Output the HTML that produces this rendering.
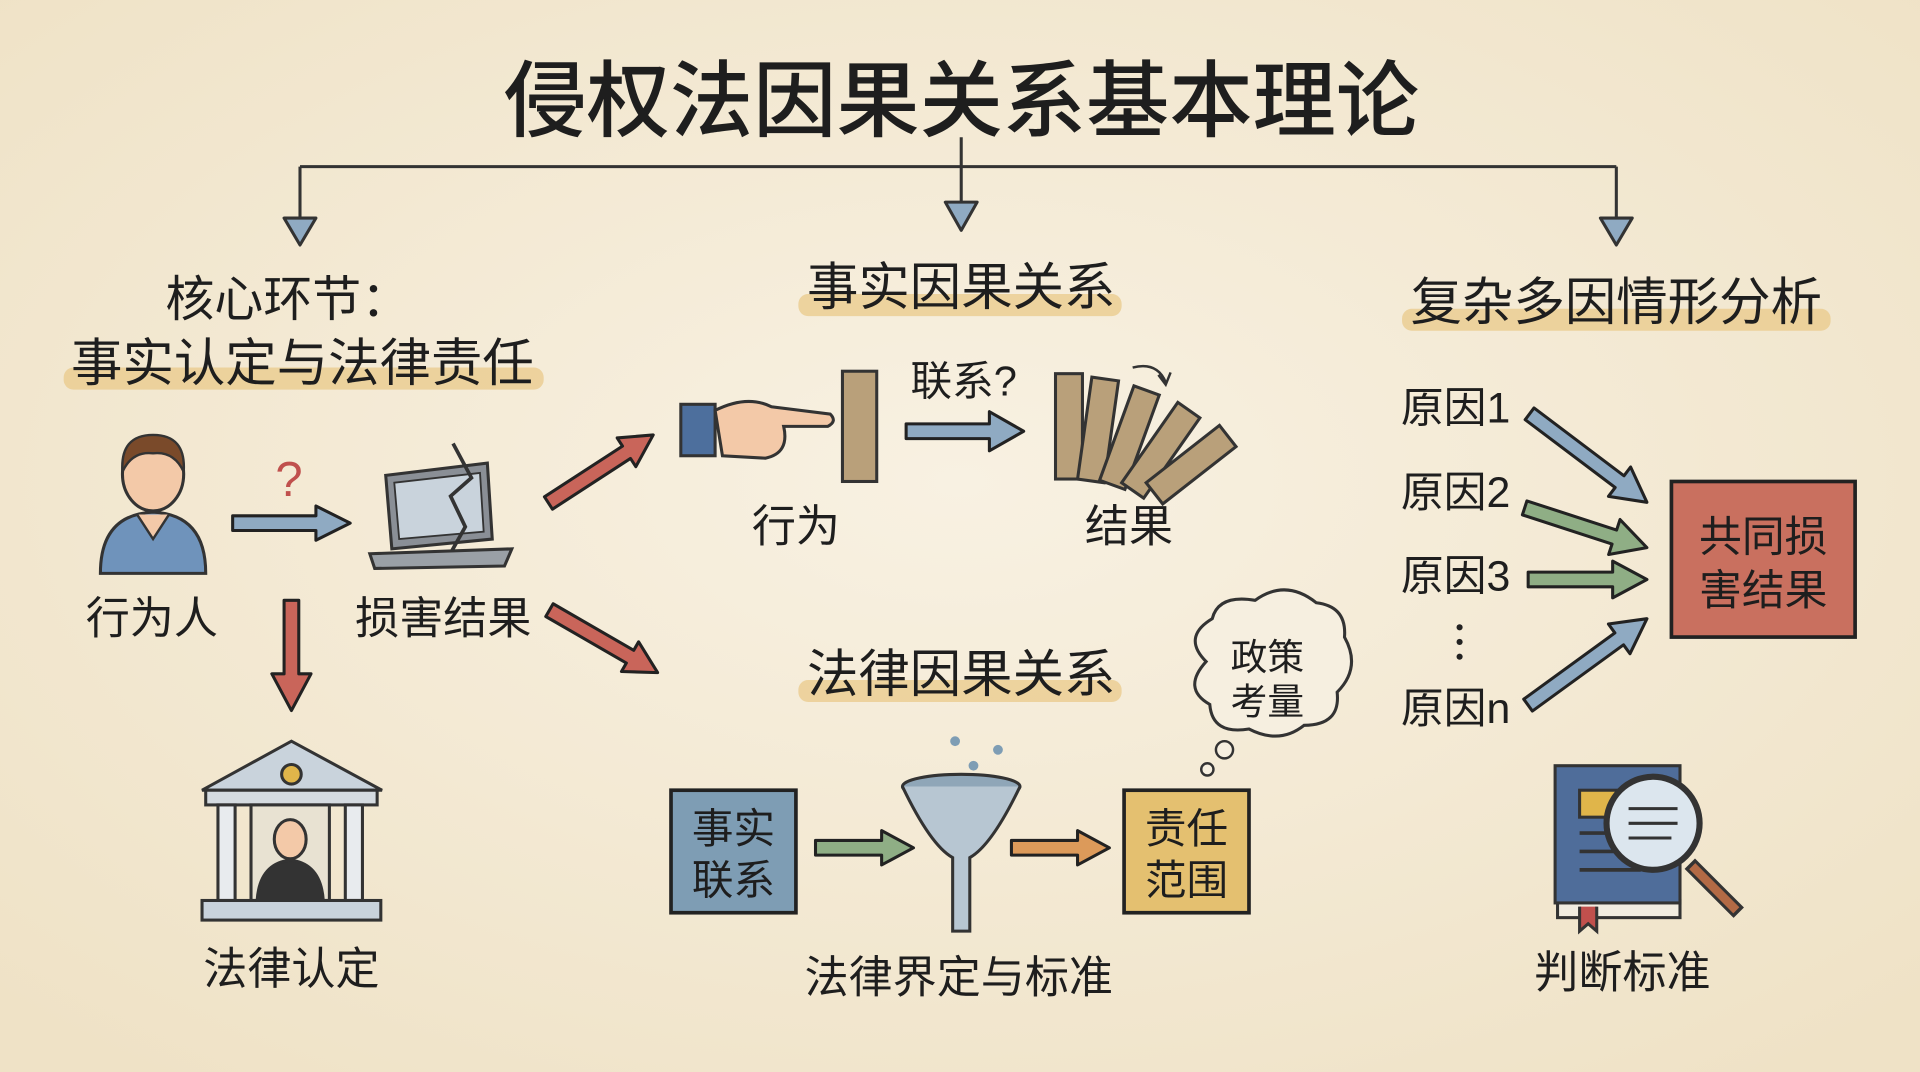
<!DOCTYPE html>
<html><head><meta charset="utf-8"><style>
html,body{margin:0;padding:0;width:1920px;height:1072px;overflow:hidden;background:#f3ead6}
svg{display:block}
text{font-family:"Liberation Sans","Noto Sans CJK SC",sans-serif;fill:#1e1e1e}
</style></head><body>
<svg width="1920" height="1072" viewBox="0 0 1568 875" preserveAspectRatio="none" xmlns="http://www.w3.org/2000/svg">
<defs>
<radialGradient id="bg" cx="50%" cy="45%" r="70%"><stop offset="0" stop-color="#f8f1e2"/><stop offset="1" stop-color="#efe2c6"/></radialGradient>
</defs>
<rect width="1568" height="875" fill="url(#bg)"/>

<text x="785" y="106" font-size="68" text-anchor="middle" font-weight="500">侵权法因果关系基本理论</text>
<g stroke="#333" stroke-width="2.5" fill="none">
<path d="M785 112 V136 M245 136 H1320 M245 136 V180 M785 136 V175 M1320 136 V180"/>
</g>
<g fill="#8faac2" stroke="#333" stroke-width="2.5" stroke-linejoin="round">
<polygon points="232,178 258,178 245,200"/><polygon points="772,165 798,165 785,188"/><polygon points="1307,178 1333,178 1320,200"/>
</g>

<g fill="#e9c98a" opacity="0.75">
<rect x="52" y="300" width="392" height="18" rx="8"/>
<rect x="652" y="240" width="264" height="18" rx="8"/>
<rect x="652" y="555" width="264" height="18" rx="8"/>
<rect x="1145" y="252" width="350" height="18" rx="8"/>
</g>
<text x="235" y="258" font-size="40" text-anchor="middle">核心环节：</text>
<text x="247" y="311" font-size="42" text-anchor="middle">事实认定与法律责任</text>
<text x="785" y="249" font-size="42" text-anchor="middle">事实因果关系</text>
<text x="785" y="565" font-size="42" text-anchor="middle">法律因果关系</text>
<text x="1320" y="261" font-size="42" text-anchor="middle">复杂多因情形分析</text>

<path d="M82 468 Q82 420 125 418 Q168 420 168 468 Z" fill="#6f93bb" stroke="#333" stroke-width="2.5"/>
<path d="M112 420 L125 440 L138 420" fill="#f3c9a8" stroke="#333" stroke-width="2"/>
<ellipse cx="125" cy="387" rx="25" ry="30" fill="#f3c9a8" stroke="#333" stroke-width="2.5"/>
<path d="M100 385 Q98 355 125 355 Q152 355 150 385 Q142 368 125 370 Q108 368 100 385Z" fill="#7a4a2a" stroke="#333" stroke-width="2"/>
<text x="124" y="517" font-size="36" text-anchor="middle">行为人</text>

<text x="236" y="405" font-size="40" text-anchor="middle" style="fill:#c0504d">?</text>
<g fill="#8faac2" transform="translate(258,427)"><polygon points="28,0 0,-14 0,-6 -68,-6 -68,6 0,6 0,14" stroke="#222" stroke-width="2.5" stroke-linejoin="round"/></g>

<path d="M315 388 L398 378 L402 440 L320 448 Z" fill="#8a8f96" stroke="#333" stroke-width="2.5"/>
<path d="M322 394 L392 386 L395 434 L326 440 Z" fill="#c9d3dc" stroke="#333" stroke-width="1.5"/>
<path d="M370 362 L385 390 L368 405 L380 430 L366 455" fill="none" stroke="#333" stroke-width="3"/>
<path d="M302 452 L418 448 L412 462 L306 464 Z" fill="#9aa0a6" stroke="#333" stroke-width="2.5"/>
<text x="362" y="517" font-size="36" text-anchor="middle">损害结果</text>

<g fill="#c9655a" stroke="#222" stroke-width="2.5" stroke-linejoin="round"><polygon points="232,490 244,490 244,550 254,550 238,580 222,550 232,550"/></g>

<g stroke="#333" stroke-width="2.5">
<polygon points="165,645 238,605 312,645" fill="#c9d3dc"/>
<circle cx="238" cy="632" r="8" fill="#e0b54a"/>
<rect x="168" y="645" width="140" height="12" fill="#d5dbe0"/>
<rect x="178" y="657" width="14" height="78" fill="#e8ebee"/><rect x="282" y="657" width="14" height="78" fill="#e8ebee"/>
<rect x="205" y="657" width="64" height="78" fill="#e8e2d2"/>
<rect x="165" y="735" width="146" height="16" fill="#c9d3dc"/>
<ellipse cx="237" cy="685" rx="13" ry="16" fill="#f3c9a8"/>
<path d="M210 735 Q212 705 237 702 Q262 705 264 735Z" fill="#333"/>
</g>
<text x="238" y="803" font-size="36" text-anchor="middle">法律认定</text>

<g fill="#c9655a"><g transform="translate(515,367) rotate(-33)"><polygon points="22,0 -4,-14 -4,-6 -80,-6 -80,6 -4,6 -4,14" stroke="#222" stroke-width="2.5" stroke-linejoin="round"/></g>
<g transform="translate(518,538) rotate(30)"><polygon points="22,0 -4,-14 -4,-6 -80,-6 -80,6 -4,6 -4,14" stroke="#222" stroke-width="2.5" stroke-linejoin="round"/></g></g>

<g stroke="#333" stroke-width="2.5">
<rect x="556" y="330" width="28" height="42" fill="#4d6f9d"/>
<path d="M584 335 Q610 322 630 332 L678 338 Q684 344 676 348 L640 348 Q645 370 625 374 L590 372 Z" fill="#f3c9a8"/>
<rect x="688" y="303" width="28" height="90" fill="#b9a07a"/>
</g>
<text x="787" y="323" font-size="34" text-anchor="middle">联系?</text>
<g transform="translate(808,352)"><polygon points="28,0 0,-16 0,-6 -68,-6 -68,6 0,6 0,16" fill="#8faac2" stroke="#222" stroke-width="2.5" stroke-linejoin="round"/></g>
<g stroke="#333" stroke-width="2.5" fill="#b9a07a">
<rect x="862" y="305" width="22" height="86"/>
<rect x="880" y="307" width="22" height="84" transform="rotate(8 880 391)"/>
<rect x="898" y="310" width="22" height="82" transform="rotate(20 898 392)"/>
<rect x="916" y="314" width="22" height="80" transform="rotate(35 916 394)"/>
<rect x="936" y="318" width="22" height="76" transform="rotate(52 936 394)"/>
</g>
<path d="M925 300 Q945 295 952 312 M946 306 L952 314 L956 304" fill="none" stroke="#333" stroke-width="2"/>
<text x="650" y="442" font-size="36" text-anchor="middle">行为</text>
<text x="922" y="442" font-size="36" text-anchor="middle">结果</text>

<path d="M985 540 Q965 520 990 505 Q995 485 1025 490 Q1050 472 1075 492 Q1100 495 1098 520 Q1112 545 1092 565 Q1095 592 1065 592 Q1045 608 1020 595 Q990 600 988 575 Q965 562 985 540Z" fill="#f6efe0" stroke="#333" stroke-width="2.5"/>
<text x="1035" y="547" font-size="30" text-anchor="middle">政策</text>
<text x="1035" y="583" font-size="30" text-anchor="middle">考量</text>
<circle cx="1000" cy="612" r="7" fill="#f6efe0" stroke="#333" stroke-width="2"/>
<circle cx="986" cy="628" r="5" fill="#f6efe0" stroke="#333" stroke-width="2"/>

<rect x="548" y="645" width="102" height="100" fill="#7e9db4" stroke="#222" stroke-width="3"/>
<text x="599" y="688" font-size="34" text-anchor="middle">事实</text>
<text x="599" y="730" font-size="34" text-anchor="middle">联系</text>
<g transform="translate(720,692)"><polygon points="26,0 0,-14 0,-6 -54,-6 -54,6 0,6 0,14" fill="#8fae85" stroke="#222" stroke-width="2.5" stroke-linejoin="round"/></g>
<g stroke="#333" stroke-width="2.5">
<ellipse cx="785" cy="642" rx="48" ry="10" fill="#8fa6b8"/>
<path d="M737 642 Q760 690 778 700 L778 760 L792 760 L792 700 Q810 690 833 642" fill="#b7c6d2"/>
</g>
<circle cx="780" cy="605" r="4" fill="#7e9db4"/><circle cx="795" cy="625" r="4" fill="#7e9db4"/><circle cx="815" cy="612" r="4" fill="#7e9db4"/>
<g transform="translate(880,692)"><polygon points="26,0 0,-14 0,-6 -54,-6 -54,6 0,6 0,14" fill="#dc9a5a" stroke="#222" stroke-width="2.5" stroke-linejoin="round"/></g>
<rect x="918" y="645" width="102" height="100" fill="#e4c070" stroke="#222" stroke-width="3"/>
<text x="969" y="688" font-size="34" text-anchor="middle">责任</text>
<text x="969" y="730" font-size="34" text-anchor="middle">范围</text>
<text x="783" y="810" font-size="36" text-anchor="middle">法律界定与标准</text>

<text x="1144" y="345" font-size="35">原因1</text>
<text x="1144" y="414" font-size="35">原因2</text>
<text x="1144" y="482" font-size="35">原因3</text>
<circle cx="1192" cy="512" r="2.5" fill="#222"/><circle cx="1192" cy="524" r="2.5" fill="#222"/><circle cx="1192" cy="536" r="2.5" fill="#222"/>
<text x="1144" y="590" font-size="35">原因n</text>
<g stroke="#222" stroke-width="2.5" stroke-linejoin="round">
<g transform="translate(1345,410) rotate(37)"><polygon points="0,0 -28,-15 -28,-6 -120,-6 -120,6 -28,6 -28,15" fill="#8faac2"/></g>
<g transform="translate(1345,447) rotate(18)"><polygon points="0,0 -28,-15 -28,-6 -105,-6 -105,6 -28,6 -28,15" fill="#8fae85"/></g>
<g transform="translate(1345,473)"><polygon points="0,0 -28,-15 -28,-6 -97,-6 -97,6 -28,6 -28,15" fill="#8fae85"/></g>
<g transform="translate(1345,505) rotate(-36)"><polygon points="0,0 -28,-15 -28,-6 -120,-6 -120,6 -28,6 -28,15" fill="#8faac2"/></g>
</g>
<rect x="1365" y="393" width="150" height="127" fill="#c9705f" stroke="#222" stroke-width="3"/>
<text x="1440" y="450" font-size="35" text-anchor="middle">共同损</text>
<text x="1440" y="494" font-size="35" text-anchor="middle">害结果</text>

<g stroke="#333" stroke-width="2.5">
<rect x="1272" y="735" width="100" height="14" fill="#f1ece0"/>
<rect x="1270" y="625" width="102" height="112" fill="#4f6d9a"/>
<rect x="1290" y="645" width="40" height="22" fill="#e0b54a"/>
<path d="M1290 680 H1340 M1290 695 H1340 M1290 710 H1340" stroke-width="3"/>
<path d="M1290 740 V760 L1297 754 L1304 760 V740" fill="#c0504d"/>
<line x1="1380" y1="705" x2="1420" y2="745" stroke-width="12" stroke="#333"/>
<line x1="1382" y1="707" x2="1418" y2="743" stroke-width="7" stroke="#b36a45"/>
<circle cx="1350" cy="672" r="38" fill="#dce6ee" stroke-width="5"/>
<path d="M1330 660 H1370 M1330 672 H1370 M1330 684 H1365" stroke-width="2.5"/>
</g>
<text x="1325" y="806" font-size="36" text-anchor="middle">判断标准</text>
</svg>
</body></html>
